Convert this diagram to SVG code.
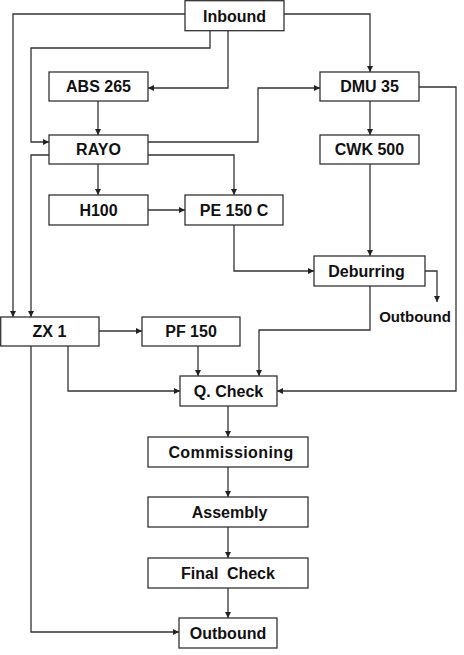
<svg xmlns="http://www.w3.org/2000/svg" width="464" height="655" viewBox="0 0 464 655">
<style>
.box{fill:#fff;stroke:#333;stroke-width:1.3}
.lbl{font-family:"Liberation Sans",Arial,sans-serif;font-weight:bold;font-size:16px;fill:#111;text-anchor:middle}
.sm{font-size:15px}
.ln{fill:none;stroke:#333;stroke-width:1.3}
</style>
<defs>
<marker id="ah" viewBox="0 0 10 10" refX="10" refY="5" markerWidth="6" markerHeight="6" markerUnits="userSpaceOnUse" orient="auto">
<path d="M0,0 L10,5 L0,10 z" fill="#222"/>
</marker>
</defs>
<rect width="464" height="655" fill="#fff"/>
<g id="connectors">
<path class="ln" d="M185,14 H13 V317" marker-end="url(#ah)"/>
<path class="ln" d="M210,31 V48 H31 V142 H49" marker-end="url(#ah)"/>
<path class="ln" d="M228,31 V88 H148" marker-end="url(#ah)"/>
<path class="ln" d="M284,14 H370 V72" marker-end="url(#ah)"/>
<path class="ln" d="M98,101 V135" marker-end="url(#ah)"/>
<path class="ln" d="M148,142 H258 V88 H320" marker-end="url(#ah)"/>
<path class="ln" d="M148,155 H234 V195" marker-end="url(#ah)"/>
<path class="ln" d="M98,164 V195" marker-end="url(#ah)"/>
<path class="ln" d="M49,155 H31 V317" marker-end="url(#ah)"/>
<path class="ln" d="M148,210 H185" marker-end="url(#ah)"/>
<path class="ln" d="M370,101 V135" marker-end="url(#ah)"/>
<path class="ln" d="M419,87 H456 V391 H277" marker-end="url(#ah)"/>
<path class="ln" d="M370,164 V256" marker-end="url(#ah)"/>
<path class="ln" d="M234,225 V271 H314" marker-end="url(#ah)"/>
<path class="ln" d="M425,271 H437 V302" marker-end="url(#ah)"/>
<path class="ln" d="M99,331 H142" marker-end="url(#ah)"/>
<path class="ln" d="M68,346 V391 H180" marker-end="url(#ah)"/>
<path class="ln" d="M198,346 V376" marker-end="url(#ah)"/>
<path class="ln" d="M370,286 V330 H259 V376" marker-end="url(#ah)"/>
<path class="ln" d="M31,346 V632 H179" marker-end="url(#ah)"/>
<path class="ln" d="M228,406 V437" marker-end="url(#ah)"/>
<path class="ln" d="M228,467 V497" marker-end="url(#ah)"/>
<path class="ln" d="M228,527 V558" marker-end="url(#ah)"/>
<path class="ln" d="M228,588 V618" marker-end="url(#ah)"/>
</g>
<g id="inbound"><rect class="box" x="185" y="0.7" width="99" height="30"/><text class="lbl" x="234.5" y="21.5">Inbound</text></g>
<g id="abs265"><rect class="box" x="49" y="72" width="99" height="29"/><text class="lbl" x="98.5" y="92">ABS 265</text></g>
<g id="dmu35"><rect class="box" x="320" y="72" width="99" height="29"/><text class="lbl" x="369.5" y="92">DMU 35</text></g>
<g id="rayo"><rect class="box" x="49" y="135" width="99" height="29"/><text class="lbl" x="98.5" y="155">RAYO</text></g>
<g id="cwk500"><rect class="box" x="320" y="135" width="99" height="29"/><text class="lbl" x="369.5" y="155">CWK 500</text></g>
<g id="h100"><rect class="box" x="49" y="195" width="99" height="30"/><text class="lbl" x="98.5" y="215.5">H100</text></g>
<g id="pe150c"><rect class="box" x="185" y="195" width="98" height="30"/><text class="lbl" x="234" y="215.5">PE 150 C</text></g>
<g id="deburring"><rect class="box" x="314" y="256" width="111" height="30"/><text class="lbl" x="366.5" y="276.5">Deburring</text></g>
<g id="outbound-side"><text class="lbl sm" x="415" y="322">Outbound</text></g>
<g id="zx1"><rect class="box" x="0.7" y="317" width="98.3" height="29"/><text class="lbl" x="49.5" y="337">ZX 1</text></g>
<g id="pf150"><rect class="box" x="142" y="317" width="98" height="29"/><text class="lbl" x="191" y="337">PF 150</text></g>
<g id="qcheck"><rect class="box" x="180" y="376" width="97" height="30"/><text class="lbl" x="228.5" y="396.5">Q. Check</text></g>
<g id="commissioning"><rect class="box" x="148" y="437" width="160" height="30"/><text class="lbl" x="231" y="457.5" letter-spacing="0.4">Commissioning</text></g>
<g id="assembly"><rect class="box" x="148" y="497" width="160" height="30"/><text class="lbl" x="229.5" y="518">Assembly</text></g>
<g id="finalcheck"><rect class="box" x="148" y="558" width="160" height="30"/><text class="lbl" x="228" y="578.5" word-spacing="4">Final Check</text></g>
<g id="outbound"><rect class="box" x="179" y="618" width="98" height="30"/><text class="lbl" x="228" y="638.5">Outbound</text></g>
</svg>
